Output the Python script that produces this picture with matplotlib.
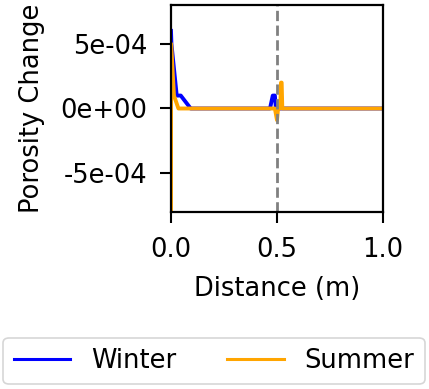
import numpy as np
import matplotlib
matplotlib.use('Agg')
import matplotlib.pyplot as plt

# distance (m) and porosity change
winter_x = [0.0, 0.002, 0.027, 0.046, 0.093, 0.467, 0.48, 0.49, 0.495, 0.50, 0.505, 1.0]
winter_y = [6.0e-4, 5.0e-4, 1.0e-4, 1.0e-4, 0.0, 0.0, 1.0e-4, 1.0e-4, 0.0, 0.0, 0.0, 0.0]

summer_x = [0.0, 0.0005, 0.014, 0.035, 0.49, 0.50, 0.505, 0.515, 0.519, 0.522, 0.525, 1.0]
summer_y = [-1.0e-3, 5.0e-4, 1.0e-4, 0.0, 0.0, -0.9e-4, 0.0, 0.0, 2.0e-4, 2.0e-4, 0.0, 0.0]

interface_x = 0.5
xticks = [0.0, 0.5, 1.0]
yticks = [-5e-4, 0.0, 5e-4]
ylim = (-8e-4, 8e-4)

plt.rcParams['font.size'] = 18.5

fig = plt.figure(figsize=(4.29, 3.89), dpi=100)
ax = fig.add_axes([171 / 429, 1 - 212 / 389, 212 / 429, 207 / 389])

ax.plot(winter_x, winter_y, color='blue', lw=2.8, label='Winter')
ax.plot(summer_x, summer_y, color='orange', lw=2.8, label='Summer')
ax.axvline(interface_x, color='gray', linestyle='--', lw=2.0)

ax.set_xlim(0, 1)
ax.set_ylim(*ylim)
ax.set_xticks(xticks)
ax.set_xticklabels(['0.0', '0.5', '1.0'])
ax.set_yticks(yticks)
ax.set_yticklabels(['%.0e' % v for v in yticks])
ax.set_xlabel('Distance (m)', labelpad=9)
ax.set_ylabel('Porosity Change', labelpad=11)
ax.tick_params(axis='y', length=8, width=1.5, pad=9)
ax.tick_params(axis='x', length=8, width=1.5, pad=10)
for s in ax.spines.values():
    s.set_linewidth(1.6)

leg = fig.legend(loc='center', bbox_to_anchor=(214 / 429, 1 - 361 / 389), ncol=2,
                 frameon=True, handlelength=2.2)
leg.get_frame().set_linewidth(1.2)
for h in leg.get_lines():
    h.set_linewidth(2.2)

fig.savefig('out.png', dpi=100)
